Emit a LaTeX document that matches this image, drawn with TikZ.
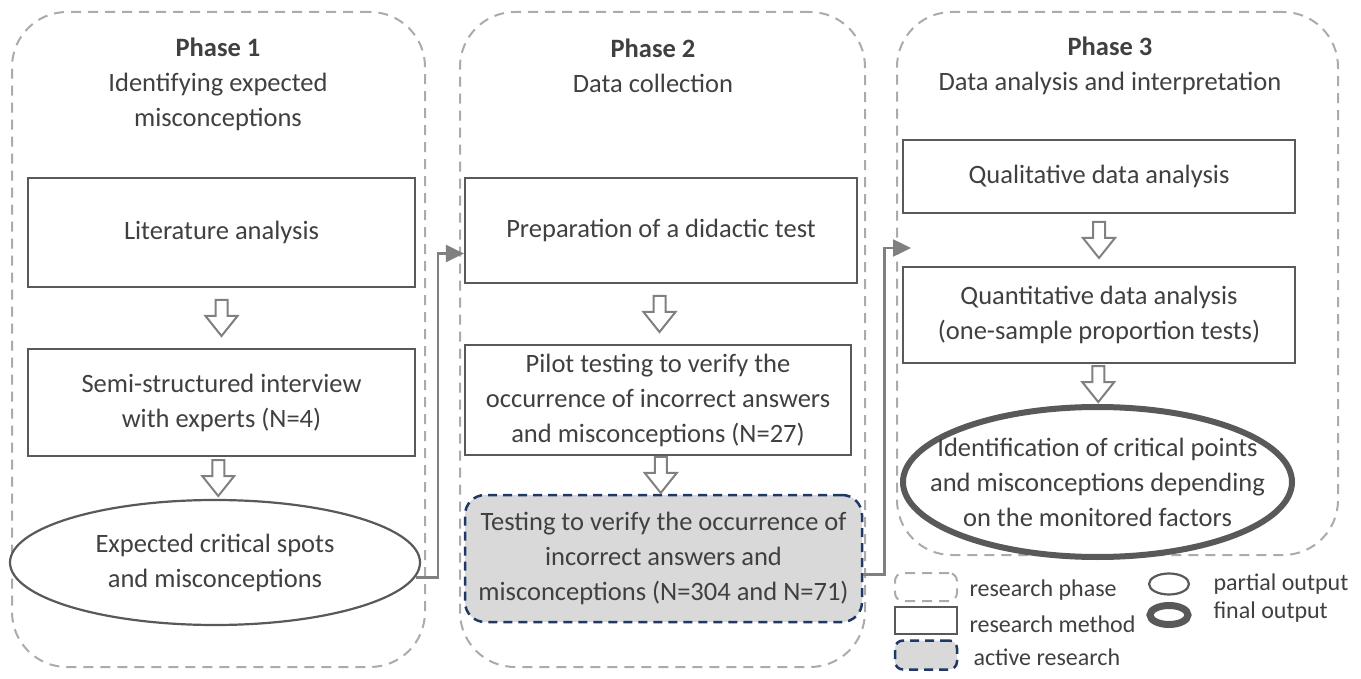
\documentclass[tikz,border=0pt]{standalone}
\usepackage{fontspec}
\setmainfont{Carlito}
\usetikzlibrary{shapes.geometric,arrows.meta,calc}
\definecolor{txt}{HTML}{404040}
\definecolor{boxline}{HTML}{595959}
\definecolor{phaseline}{HTML}{ABABAB}
\definecolor{navy}{HTML}{1F3864}
\definecolor{activefill}{HTML}{D9D9D9}
\definecolor{linkgray}{HTML}{808080}
\newcommand\boxfont{\fontsize{26.5}{35}\selectfont}
\newcommand\keyfont{\fontsize{24}{28}\selectfont}
\tikzset{
  phase/.style={draw=phaseline, line width=2pt, dash pattern=on 10pt off 7pt, rounded corners=55pt},
  method/.style={draw=boxline, line width=2.2pt, fill=white, align=center, text=txt, font=\boxfont, inner sep=0pt},
  partial/.style={method, ellipse},
  final/.style={method, ellipse, line width=6pt},
  active/.style={method, draw=navy, fill=activefill, line width=2.5pt, dash pattern=on 9pt off 6pt, rounded corners=20pt},
  title/.style={align=center, text=txt, font=\boxfont},
  keytext/.style={anchor=west, text=txt, font=\keyfont},
  link/.style={draw=linkgray, line width=2.5pt, -{Triangle[length=18pt,width=17pt]}},
  hollow/.pic={\draw[draw=linkgray, line width=2pt, fill=white, line join=miter]
    (-6,-18) -- (-6,-2) -- (-16,-2) -- (0,18) -- (16,-2) -- (6,-2) -- (6,-18) -- cycle;}
}
\begin{document}
\begin{tikzpicture}[x=1pt, y=-1pt]
  \useasboundingbox (0,0) rectangle (1361,679);
  % phases
  \node[phase, minimum width=413pt, minimum height=655pt] (ph1) at (218.5,339.5) {};
  \node[phase, minimum width=405pt, minimum height=655pt] (ph2) at (662.5,339.5) {};
  \node[phase, minimum width=441pt, minimum height=543pt] (ph3) at (1117.5,283.5) {};
  \node[title] (t1) at (218,84) {\textbf{Phase 1}\\Identifying expected\\misconceptions};
  \node[title] (t2) at (653,66) {\textbf{Phase 2}\\Data collection};
  \node[title] (t3) at (1110,66) {\textbf{Phase 3}\\Data analysis and interpretation};
  % phase 1
  \node[method, minimum width=387pt, minimum height=109pt] (lit) at (221.5,232.5) {Literature analysis};
  \node[method, minimum width=387pt, minimum height=107pt] (semi) at (221.5,402.5) {Semi-structured interview\\with experts (N=4)};
  \node[partial, minimum width=410pt, minimum height=125pt] (crit) at (215,562.5) {Expected critical spots\\and misconceptions};
  % phase 2
  \node[method, minimum width=392pt, minimum height=105pt] (prep) at (661,230.5) {Preparation of a didactic test};
  \node[method, minimum width=386pt, minimum height=110pt] (pilot) at (658,400) {Pilot testing to verify the\\occurrence of incorrect answers\\and misconceptions (N=27)};
  \node[active, minimum width=397pt, minimum height=127pt] (test) at (663.5,558.5) {Testing to verify the occurrence of\\incorrect answers and\\misconceptions (N=304 and N=71)};
  % phase 3
  \node[method, minimum width=392pt, minimum height=73pt] (qual) at (1099,176.5) {Qualitative data analysis};
  \node[method, minimum width=392pt, minimum height=96pt] (quant) at (1099,315) {Quantitative data analysis\\(one-sample proportion tests)};
  \node[final, inner xsep=-40pt, minimum width=389pt, minimum height=150pt] (fin) at (1097.5,482) {Identification of critical points\\and misconceptions depending\\on the monitored factors};
  \foreach \a/\b in {lit/semi, semi/crit, prep/pilot, pilot/test, qual/quant, quant/fin}
    \pic at ($(\a.south)!0.5!(\b.north)$) {hollow};
  % links between phases
  \coordinate (in3) at (911,248);
  \draw[link] ($(crit.east)+(-5,15)$) -- ++(22,0) |- ($(prep.west)+(0,23)$);
  \draw[link] ($(test.east)+(0,16)$) -- ++(21,0) |- (in3);
  % legend
  \node[phase, rounded corners=8pt, minimum width=62pt, minimum height=28pt] (kphase) at (926,587) {};
  \node[method, minimum width=62pt, minimum height=27pt] (kmethod) at (926,620.5) {};
  \node[active, rounded corners=8pt, minimum width=62pt, minimum height=29pt] (kactive) at (926,655) {};
  \node[partial, minimum width=40pt, minimum height=21pt] (kpartial) at (1169,584) {};
  \node[final, line width=7pt, minimum width=38pt, minimum height=19pt] (kfinal) at (1169,615) {};
  \node[keytext] at (966,590) {research phase};
  \node[keytext] at (966,624) {research method};
  \node[keytext] at (970,657) {active research};
  \node[keytext] at (1210,584) {partial output};
  \node[keytext] at (1210,612) {final output};
\end{tikzpicture}
\end{document}
